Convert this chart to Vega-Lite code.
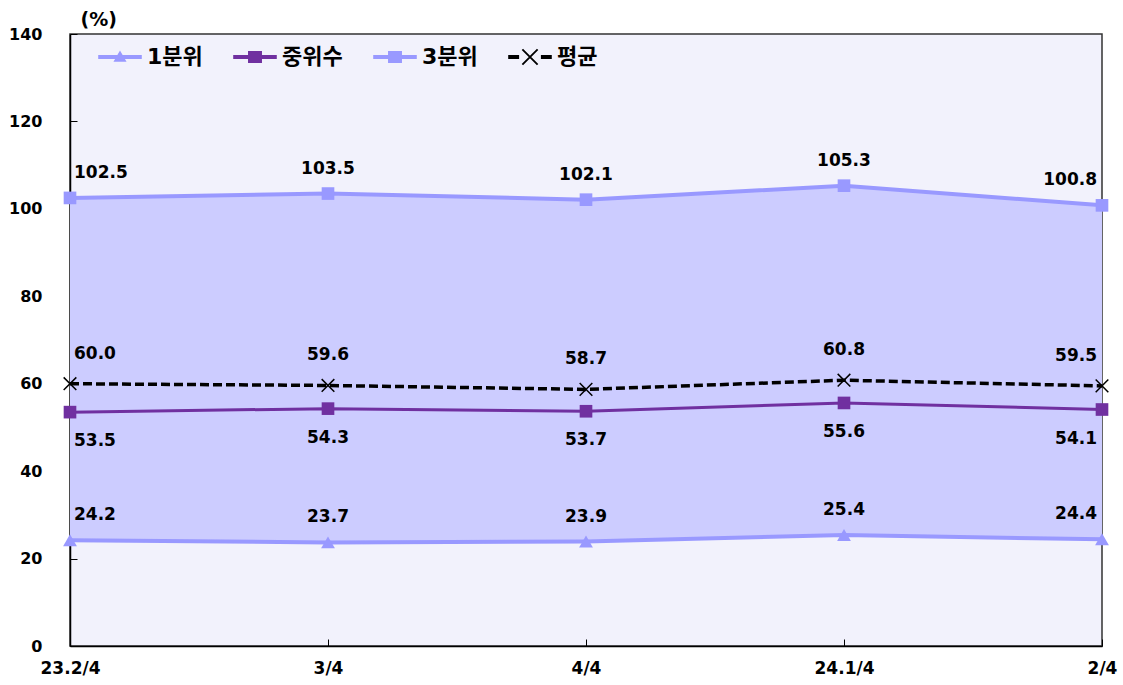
{
  "$schema": "https://vega.github.io/schema/vega-lite/v6.json",
  "width": 1032,
  "height": 612,
  "autosize": "none",
  "padding": {"left": 70, "top": 34, "right": 21, "bottom": 39},
  "background": "white",
  "config": {
    "font": "DejaVu Sans, Noto Sans CJK KR",
    "view": {"fill": "#F2F2FC", "stroke": "#333333", "strokeWidth": 1.5},
    "axisY": {"titleFontSize": 19, "titleFontWeight": "bold", "titleColor": "#000000", "titleFont": "DejaVu Sans"}
  },
  "datasets": {
    "long": [
      {"q": "23.2/4", "series": "1분위", "value": 24.2},
      {"q": "3/4", "series": "1분위", "value": 23.7},
      {"q": "4/4", "series": "1분위", "value": 23.9},
      {"q": "24.1/4", "series": "1분위", "value": 25.4},
      {"q": "2/4", "series": "1분위", "value": 24.4},
      {"q": "23.2/4", "series": "중위수", "value": 53.5},
      {"q": "3/4", "series": "중위수", "value": 54.3},
      {"q": "4/4", "series": "중위수", "value": 53.7},
      {"q": "24.1/4", "series": "중위수", "value": 55.6},
      {"q": "2/4", "series": "중위수", "value": 54.1},
      {"q": "23.2/4", "series": "3분위", "value": 102.5},
      {"q": "3/4", "series": "3분위", "value": 103.5},
      {"q": "4/4", "series": "3분위", "value": 102.1},
      {"q": "24.1/4", "series": "3분위", "value": 105.3},
      {"q": "2/4", "series": "3분위", "value": 100.8},
      {"q": "23.2/4", "series": "평균", "value": 60.0},
      {"q": "3/4", "series": "평균", "value": 59.6},
      {"q": "4/4", "series": "평균", "value": 58.7},
      {"q": "24.1/4", "series": "평균", "value": 60.8},
      {"q": "2/4", "series": "평균", "value": 59.5}
    ],
    "wide": [
      {"q": "23.2/4", "q1": 24.2, "q3": 102.5},
      {"q": "3/4", "q1": 23.7, "q3": 103.5},
      {"q": "4/4", "q1": 23.9, "q3": 102.1},
      {"q": "24.1/4", "q1": 25.4, "q3": 105.3},
      {"q": "2/4", "q1": 24.4, "q3": 100.8}
    ]
  },
  "encoding": {
    "x": {
      "field": "q", "type": "ordinal",
      "sort": ["23.2/4", "3/4", "4/4", "24.1/4", "2/4"],
      "scale": {"type": "point", "padding": 0},
      "axis": {
        "title": null, "labelAngle": 0, "labelFont": "DejaVu Sans", "labelFontWeight": "bold",
        "labelFontSize": 17, "labelColor": "#000000", "domainColor": "#000000", "domainWidth": 1.5,
        "tickColor": "#000000", "tickSize": -7, "labelPadding": 29, "labelBaseline": "middle"
      }
    }
  },
  "layer": [
    {
      "data": {"name": "wide"},
      "mark": {"type": "area", "color": "#CCCCFF", "opacity": 1},
      "encoding": {
        "y": {
          "field": "q1", "type": "quantitative",
          "scale": {"domain": [0, 140]},
          "axis": {
            "title": "(%)", "titleAngle": 0, "titleX": 10, "titleY": -9, "titleAlign": "left",
            "titleBaseline": "alphabetic", "titleFont": "DejaVu Sans", "titleFontSize": 19, "titleFontWeight": "bold",
            "values": [0, 20, 40, 60, 80, 100, 120, 140], "grid": false,
            "labelFont": "DejaVu Sans", "labelFontWeight": "bold", "labelFontSize": 16, "labelColor": "#000000",
            "domainColor": "#000000", "domainWidth": 1.5, "tickColor": "#000000", "tickSize": -7, "labelPadding": 35
          }
        },
        "y2": {"field": "q3"}
      }
    },
    {
      "data": {"name": "long"},
      "transform": [{"filter": "datum.series == '1분위'"}],
      "mark": {"type": "line", "strokeWidth": 4, "color": "#9999FF"},
      "encoding": {"y": {"field": "value", "type": "quantitative"}}
    },
    {
      "data": {"name": "long"},
      "transform": [{"filter": "datum.series == '3분위'"}],
      "mark": {"type": "line", "strokeWidth": 4, "color": "#9999FF"},
      "encoding": {"y": {"field": "value", "type": "quantitative"}}
    },
    {
      "data": {"name": "long"},
      "transform": [{"filter": "datum.series == '중위수'"}],
      "mark": {"type": "line", "strokeWidth": 3, "color": "#7030A0"},
      "encoding": {"y": {"field": "value", "type": "quantitative"}}
    },
    {
      "data": {"name": "long"},
      "transform": [{"filter": "datum.series == '평균'"}],
      "mark": {"type": "line", "strokeWidth": 3.5, "color": "#000000", "strokeDash": [9, 4]},
      "encoding": {"y": {"field": "value", "type": "quantitative"}}
    },
    {
      "data": {"name": "long"},
      "transform": [{"filter": "datum.series == '1분위'"}],
      "mark": {"type": "point", "shape": "triangle-up", "filled": true, "color": "#9999FF", "size": 190, "opacity": 1},
      "encoding": {"y": {"field": "value", "type": "quantitative"}}
    },
    {
      "data": {"name": "long"},
      "transform": [{"filter": "datum.series == '3분위'"}],
      "mark": {"type": "point", "shape": "square", "filled": true, "color": "#9999FF", "size": 160, "opacity": 1},
      "encoding": {"y": {"field": "value", "type": "quantitative"}}
    },
    {
      "data": {"name": "long"},
      "transform": [{"filter": "datum.series == '중위수'"}],
      "mark": {"type": "point", "shape": "square", "filled": true, "color": "#7030A0", "size": 160, "opacity": 1},
      "encoding": {"y": {"field": "value", "type": "quantitative"}}
    },
    {
      "data": {"name": "long"},
      "transform": [{"filter": "datum.series == '평균'"}],
      "mark": {"type": "point", "shape": "M-1,-1L1,1M-1,1L1,-1", "filled": false, "stroke": "#000000", "strokeWidth": 1.5, "size": 160, "opacity": 1},
      "encoding": {"y": {"field": "value", "type": "quantitative"}}
    },
    {
      "data": {"name": "long"},
      "transform": [{"filter": "datum.series != '중위수'"}],
      "mark": {
        "type": "text", "font": "DejaVu Sans", "fontWeight": "bold", "fontSize": 17, "color": "#000000",
        "baseline": "middle",
        "align": {"expr": "datum.q == '23.2/4' ? 'left' : (datum.q == '2/4' ? 'right' : 'center')"},
        "dx": {"expr": "datum.q == '23.2/4' ? 4 : (datum.q == '2/4' ? -5 : 0)"},
        "dy": {"expr": "datum.series == '평균' ? -30 : -25"}
      },
      "encoding": {
        "y": {"field": "value", "type": "quantitative"},
        "text": {"field": "value", "type": "quantitative", "format": ".1f"}
      }
    },
    {
      "data": {"name": "long"},
      "transform": [{"filter": "datum.series == '중위수'"}],
      "mark": {
        "type": "text", "font": "DejaVu Sans", "fontWeight": "bold", "fontSize": 17, "color": "#000000",
        "baseline": "middle",
        "align": {"expr": "datum.q == '23.2/4' ? 'left' : (datum.q == '2/4' ? 'right' : 'center')"},
        "dx": {"expr": "datum.q == '23.2/4' ? 4 : (datum.q == '2/4' ? -5 : 0)"},
        "dy": 29
      },
      "encoding": {
        "y": {"field": "value", "type": "quantitative"},
        "text": {"field": "value", "type": "quantitative", "format": ".1f"}
      }
    },
    {
      "data": {"name": "long"},
      "mark": {"type": "point", "filled": true, "opacity": 1, "size": 0},
      "encoding": {
        "y": {"field": "value", "type": "quantitative"},
        "fill": {
          "field": "series", "type": "nominal",
          "scale": {"domain": ["1분위", "중위수", "3분위", "평균"], "range": ["#9999FF", "#7030A0", "#9999FF", "#000000"]},
          "legend": {
            "title": null, "orient": "none", "legendX": 28, "legendY": 1, "direction": "horizontal",
            "symbolSize": 1900, "symbolStrokeWidth": 0, "symbolOpacity": 1,
            "labelFont": "DejaVu Sans, Noto Sans CJK KR", "labelFontWeight": "bold", "labelFontSize": 22,
            "labelColor": "#000000", "labelOffset": 5, "columnPadding": 30, "padding": 0
          }
        },
        "shape": {
          "field": "series", "type": "nominal",
          "scale": {
            "domain": ["1분위", "중위수", "3분위", "평균"],
            "range": [
              "M-1,-0.09H1V0.09H-1Z M0,-0.3L0.3,0.22L-0.3,0.22Z",
              "M-1,-0.09H1V0.09H-1Z M-0.32,-0.28H0.32V0.28H-0.32Z",
              "M-1,-0.09H1V0.09H-1Z M-0.32,-0.28H0.32V0.28H-0.32Z",
              "M-1,-0.09H-0.5V0.09H-1Z M0.5,-0.09H1V0.09H0.5Z M-0.38,-0.32L-0.32,-0.38L0.38,0.32L0.32,0.38Z M0.32,-0.38L0.38,-0.32L-0.32,0.38L-0.38,0.32Z"
            ]
          },
          "legend": {
            "title": null, "orient": "none", "legendX": 28, "legendY": 1, "direction": "horizontal",
            "symbolSize": 1900, "symbolStrokeWidth": 0,
            "labelFont": "DejaVu Sans, Noto Sans CJK KR", "labelFontWeight": "bold", "labelFontSize": 22,
            "labelColor": "#000000", "labelOffset": 5, "columnPadding": 30, "padding": 0
          }
        }
      }
    }
  ]
}
